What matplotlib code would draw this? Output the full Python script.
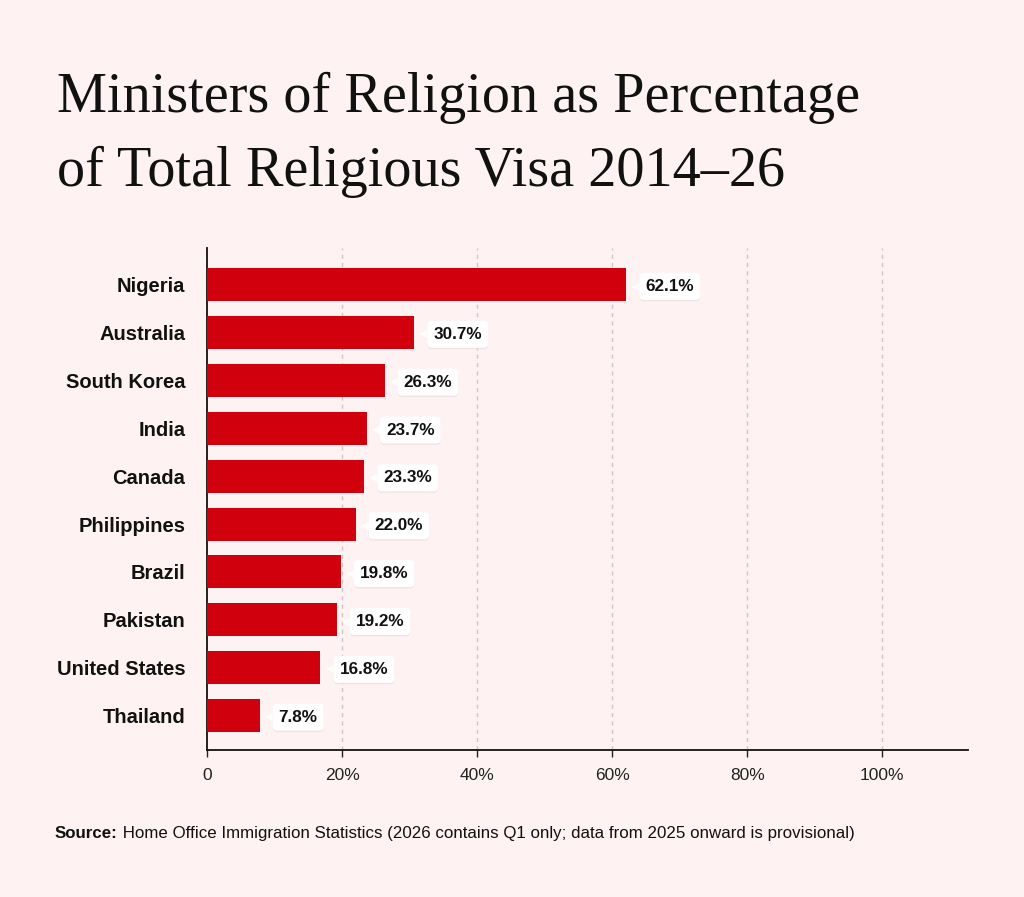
import matplotlib
matplotlib.use("Agg")
import matplotlib.pyplot as plt
import matplotlib.transforms as mtransforms
import matplotlib.patheffects as pe
from matplotlib import font_manager

countries = ["Nigeria", "Australia", "South Korea", "India", "Canada",
             "Philippines", "Brazil", "Pakistan", "United States", "Thailand"]
values = [62.1, 30.7, 26.3, 23.7, 23.3, 22.0, 19.8, 19.2, 16.8, 7.8]
xticks = [0, 20, 40, 60, 80, 100]
xticklabels = ["0", "20%", "40%", "60%", "80%", "100%"]

title_lines = ["Ministers of Religion as Percentage",
               "of Total Religious Visa 2014\u201326"]
source_bold = "Source:"
source_rest = " Home Office Immigration Statistics (2026 contains Q1 only; data from 2025 onward is provisional)"

names = {f.name for f in font_manager.fontManager.ttflist}
narrow = "Liberation Sans Narrow" if "Liberation Sans Narrow" in names else "Liberation Sans"

BG = "#FEF2F2"
RED = "#D1000D"

fig = plt.figure(figsize=(10.24, 8.97), dpi=100, facecolor=BG)
ax = fig.add_axes([207/1024, 1-750/897, (968-207)/1024, (750-248)/897])
ax.set_facecolor(BG)

y = list(range(len(countries)))
ax.barh(y, values, height=0.69, color=RED, zorder=3)
ax.set_ylim(9.72, -0.77)
ax.set_xlim(0, 112.7)

ax.set_yticks(y)
ax.set_yticklabels(countries, fontfamily="Liberation Sans", fontweight="bold",
                   fontsize=14.5, color="#111111")
ax.tick_params(axis="y", length=0, pad=15.5)
ax.set_xticks(xticks)
ax.set_xticklabels(xticklabels, fontfamily=narrow, fontsize=12.5, color="#222222")
ax.tick_params(axis="x", length=5, width=1, color="#222222", pad=8)

for x in xticks[1:]:
    ax.axvline(x, color="#cfc6c6", linestyle=(0, (3, 3)), linewidth=1, zorder=1)

for s in ["top", "right"]:
    ax.spines[s].set_visible(False)
ax.spines["left"].set_linewidth(1.3)
ax.spines["bottom"].set_linewidth(1.3)
ax.spines["left"].set_color("#111111")
ax.spines["bottom"].set_color("#111111")

tri_tr = mtransforms.offset_copy(ax.transData, fig=fig, x=7.3, y=-1.2, units="points")
for i, v in enumerate(values):
    ax.annotate(f"{v:.1f}%", xy=(v, i), xytext=(13.7, -1.2), textcoords="offset points",
                ha="left", va="center", fontfamily="Liberation Sans", fontweight="bold",
                fontsize=12.3, color="#111111", zorder=6,
                bbox=dict(boxstyle="round,pad=0.35,rounding_size=0.25", fc="white",
                          ec="none",
                          path_effects=[pe.SimplePatchShadow(offset=(0, -1), shadow_rgbFace="#e8dada", alpha=0.6),
                                        pe.Normal()]))
    ax.plot([v], [i], marker="<", markersize=7, color="white", transform=tri_tr,
            zorder=5, clip_on=False, markeredgewidth=0)

fig.text(57/1024, 1-112/897, title_lines[0], fontfamily="Liberation Serif", fontsize=40.5,
         color="#111111", va="baseline", ha="left")
fig.text(57/1024, 1-186/897, title_lines[1], fontfamily="Liberation Serif", fontsize=40.5,
         color="#111111", va="baseline", ha="left")

t = fig.text(55/1024, 1-838/897, source_bold, fontfamily=narrow, fontweight="bold",
             fontsize=12.2, color="#111111", va="baseline")
fig.canvas.draw()
bb = t.get_window_extent()
fig.text(bb.x1/1024, 1-838/897, source_rest, fontfamily=narrow, fontsize=12.2,
         color="#111111", va="baseline")

fig.savefig("out.png", dpi=100, facecolor=BG)
